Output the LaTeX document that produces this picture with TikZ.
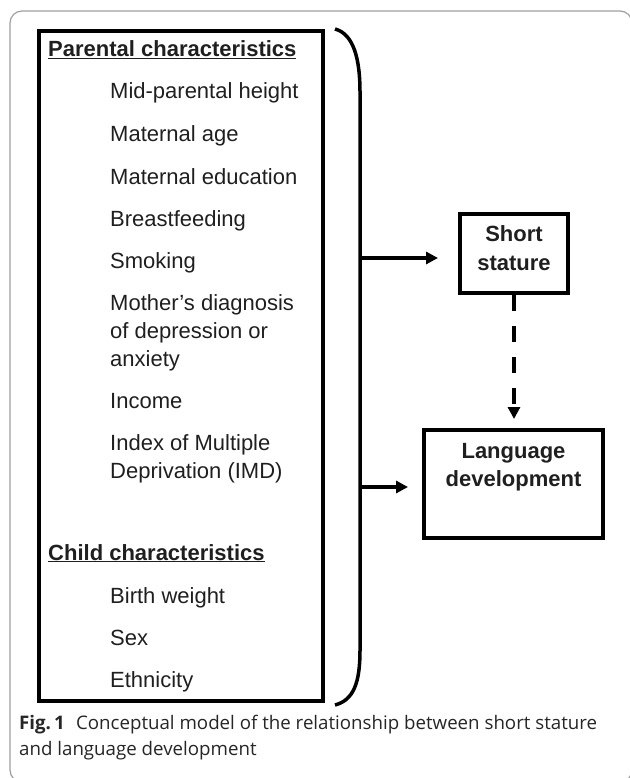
\documentclass[tikz,border=0pt]{standalone}
\usepackage{fontspec}
\setmainfont{Liberation Sans}
\newfontfamily\capfont{Open Sans}
\usetikzlibrary{arrows.meta}
\begin{document}
\begin{tikzpicture}[x=1pt,y=-1pt,
  item/.style={anchor=base west, inner sep=0pt, font=\fontsize{22}{28}\selectfont, text=black!88},
  head/.style={anchor=base west, inner sep=0pt, font=\fontsize{22}{28}\selectfont\bfseries, text=black!88},
  boxtxt/.style={anchor=base, inner sep=0pt, font=\fontsize{22}{28}\selectfont\bfseries, text=black!88},
  thickbox/.style={draw, line width=4pt, inner sep=0pt},
  arr/.style={line width=3.5pt, -{Triangle[length=12pt,width=12pt]}},
  captxt/.style={anchor=base west, inner sep=0pt, font=\capfont\fontsize{18.7}{26}\selectfont, text=black!85}
]
\useasboundingbox (0,0) rectangle (629,778);
% outer frame
\draw[gray!75, line width=1.2pt, rounded corners=12pt] (10,11) rectangle (632,782);
% left box
\node[thickbox, minimum width=284pt, minimum height=670pt] (lbox) at (181,366) {};
% brace
\draw[line width=3.5pt] (335,29) .. controls (354,34) and (360,60) .. (360,92) coordinate (btop)
  -- (360,650) coordinate (bbot) .. controls (360,682) and (354,700) .. (335,705);
\coordinate (b1) at (360,258);
\coordinate (b2) at (360,487);
% items
\node[head] (ph) at (48,57) {\underline{Parental characteristics}};
\node[item] (i1) at (110,99) {Mid-parental height};
\node[item] (i2) at (110,142) {Maternal age};
\node[item] (i3) at (110,184) {Maternal education};
\node[item] (i4) at (110,226) {Breastfeeding};
\node[item] (i5) at (110,268) {Smoking};
\node[item] (i6a) at (110,310) {Mother’s diagnosis};
\node[item] (i6b) at (110,338) {of depression or};
\node[item] (i6c) at (110,366) {anxiety};
\node[item] (i7) at (110,408) {Income};
\node[item] (i8a) at (110,450) {Index of Multiple};
\node[item] (i8b) at (110,478) {Deprivation (IMD)};
\node[head] (ch) at (48,560) {\underline{Child characteristics}};
\node[item] (c1) at (110,603) {Birth weight};
\node[item] (c2) at (110,645) {Sex};
\node[item] (c3) at (110,687) {Ethnicity};
% short stature box
\node[thickbox, minimum width=108pt, minimum height=79pt] (ss) at (514,253.5) {};
\node[boxtxt] (sst1) at (514,241) {Short};
\node[boxtxt] (sst2) at (514,270) {stature};
% language development box
\node[thickbox, minimum width=179pt, minimum height=108pt] (ld) at (513.5,484) {};
\node[boxtxt] (ldt1) at (513.5,458) {Language};
\node[boxtxt] (ldt2) at (513.5,486) {development};
% connectors
\draw[arr, shorten >=20pt] (b1) -- (b1 -| ss.west);
\draw[arr, shorten >=14pt] (b2) -- (b2 -| ld.west);
\draw[arr, dash pattern=on 16pt off 15pt, shorten >=9pt] (ss.south) -- (ss.south |- ld.north);
% caption
\node[captxt] (cap1) at (19,729) {\textbf{Fig.\,1}\hspace{0.6em}Conceptual model of the relationship between short stature};
\node[captxt] (cap2) at (19,755) {and language development};
\end{tikzpicture}
\end{document}
